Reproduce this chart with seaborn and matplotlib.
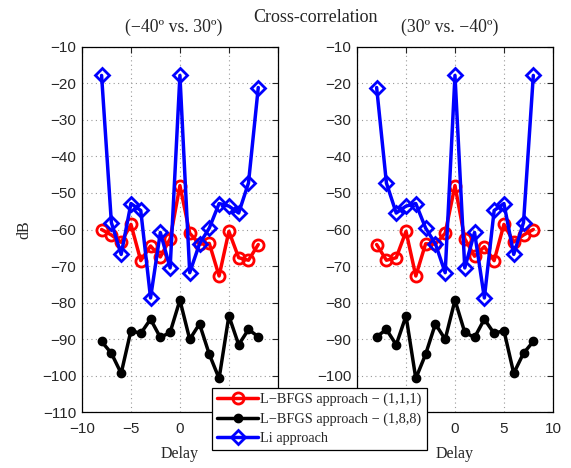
import numpy as np
import pandas as pd
import matplotlib
matplotlib.use("Agg")
import matplotlib.pyplot as plt
import seaborn as sns

# ---- data ----
delay = [-8, -7, -6, -5, -4, -3, -2, -1, 0, 1, 2, 3, 4, 5, 6, 7, 8]

left_lbfgs_111 = [-60.0, -61.5, -63.5, -58.6, -68.5, -64.5, -67.5, -62.5, -48.0,
                  -61.0, -64.0, -63.8, -72.7, -60.5, -67.7, -68.4, -64.1]
left_lbfgs_188 = [-90.6, -93.8, -99.3, -87.6, -88.4, -84.5, -89.5, -88.1, -79.3,
                  -90.0, -85.8, -94.1, -100.7, -83.6, -91.5, -87.3, -89.3]
left_li = [-17.9, -58.1, -66.8, -52.9, -54.8, -78.7, -60.8, -70.5, -17.9,
           -71.8, -63.9, -59.6, -52.9, -53.6, -55.5, -47.3, -21.2]

right_lbfgs_111 = [-64.1, -68.4, -67.7, -60.5, -72.7, -63.9, -64.0, -61.0, -48.0,
                   -62.5, -67.3, -64.7, -68.5, -58.6, -63.4, -61.5, -60.0]
right_lbfgs_188 = [-89.3, -87.3, -91.5, -83.6, -100.7, -94.1, -85.8, -90.0, -79.3,
                   -88.1, -89.5, -84.5, -88.4, -87.6, -99.3, -93.8, -90.6]
right_li = [-21.2, -47.3, -55.5, -53.6, -52.9, -59.6, -63.9, -71.8, -17.9,
            -70.5, -60.8, -78.7, -54.8, -52.9, -66.8, -58.1, -17.9]

series_names = ["L\u2212BFGS approach \u2212 (1,1,1)",
                "L\u2212BFGS approach \u2212 (1,8,8)",
                "Li approach"]
panel_titles = ["(\u221240\u00ba vs. 30\u00ba)", "(30\u00ba vs. \u221240\u00ba)"]
main_title = "Cross-correlation"
x_ticks = [-10, -5, 0, 5, 10]
y_ticks = [-110, -100, -90, -80, -70, -60, -50, -40, -30, -20, -10]

# ---- style ----
sns.set_style("white")
plt.rcParams["font.family"] = ["Liberation Sans", "DejaVu Sans"]
plt.rcParams["axes.unicode_minus"] = True
serif = ["Liberation Serif", "DejaVu Serif"]

colors = ["#ff0000", "#000000", "#0000ff"]
styles = [
    dict(marker="o", markersize=8, markerfacecolor="none", markeredgewidth=2.0),
    dict(marker="o", markersize=6, markerfacecolor="#000000", markeredgewidth=1.0),
    dict(marker="D", markersize=7, markerfacecolor="none", markeredgewidth=2.0),
]

fig = plt.figure(figsize=(5.71, 4.68), dpi=100)
ax_l = fig.add_axes([0.1436, 0.1186, 0.343, 0.782])
ax_r = fig.add_axes([0.6253, 0.1186, 0.343, 0.782])

panels = [
    (ax_l, [left_lbfgs_111, left_lbfgs_188, left_li]),
    (ax_r, [right_lbfgs_111, right_lbfgs_188, right_li]),
]

for ax, ys in panels:
    for name, vals, col, st in zip(series_names, ys, colors, styles):
        df = pd.DataFrame({"Delay": delay, "dB": vals})
        sns.lineplot(data=df, x="Delay", y="dB", ax=ax, color=col, linewidth=2.5,
                     markeredgecolor=col, label=name, legend=False, **st)
    ax.set_xlim(-10, 10)
    ax.set_ylim(-110, -10)
    ax.set_xticks(x_ticks)
    ax.set_yticks(y_ticks)
    ax.grid(True, linestyle=(0, (1, 3)), color="#999999", linewidth=0.8)
    ax.tick_params(direction="in", top=True, right=True, length=4, width=0.8,
                   labelsize=11)
    ax.tick_params(axis="x", pad=7)
    ax.tick_params(axis="y", pad=4)
    for sp in ax.spines.values():
        sp.set_color("#000000")
        sp.set_linewidth(0.9)
    ax.set_xlabel("Delay", family=serif, fontsize=11.5, labelpad=7)
    ax.set_ylabel("")

ax_l.set_ylabel("dB", family=serif, fontsize=11.5, labelpad=7)

fig.text(0.305, 0.942, panel_titles[0], family=serif, fontsize=12.8,
         ha="center", va="center")
fig.text(0.552, 0.962, main_title, family=serif, fontsize=13,
         ha="center", va="center")
fig.text(0.788, 0.942, panel_titles[1], family=serif, fontsize=12.8,
         ha="center", va="center")

handles, labels = ax_l.get_legend_handles_labels()
leg = fig.legend(handles, labels, loc="lower left",
                 bbox_to_anchor=(0.371, 0.0385), borderaxespad=0,
                 prop={"family": serif, "size": 10.3}, frameon=True,
                 fancybox=False, edgecolor="#000000", framealpha=1,
                 handlelength=2.9, handletextpad=0.15, labelspacing=0.42,
                 borderpad=0.35)
leg.get_frame().set_linewidth(0.9)
leg.set_zorder(10)

fig.savefig("out.png", dpi=100)
